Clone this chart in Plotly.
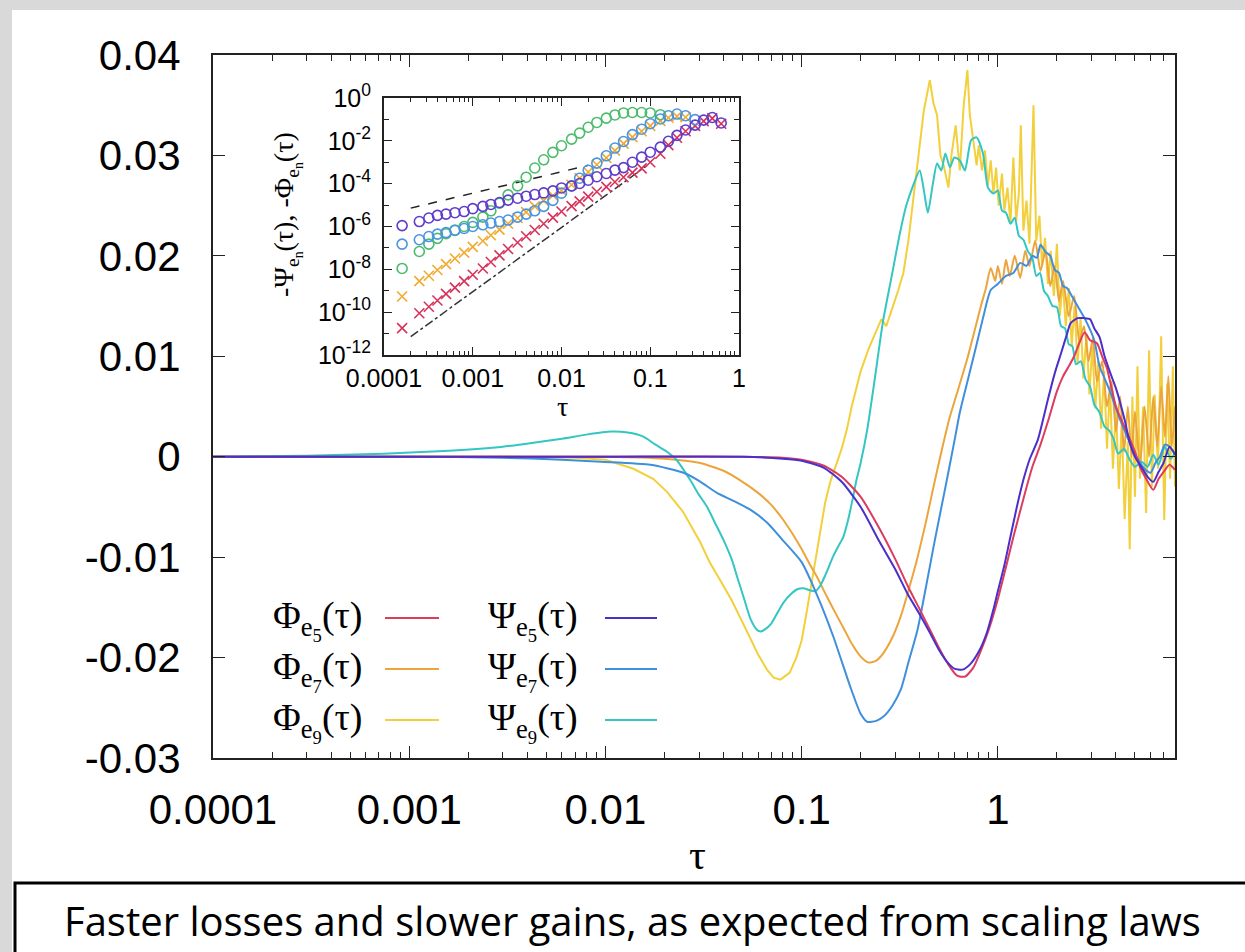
import plotly.graph_objects as go

# ---------------------------------------------------------------------------
# Main panel data: tau and response values for each descriptor
# ---------------------------------------------------------------------------
phi5_tau = [1e-4, 0.01, 0.05, 0.08, 0.1, 0.13, 0.16, 0.2, 0.25, 0.3,
            0.35, 0.4, 0.45, 0.5, 0.56, 0.62, 0.68, 0.75, 0.82, 0.9,
            1.0, 1.1, 1.2, 1.35, 1.5, 1.65, 1.8, 2.0, 2.15, 2.3,
            2.45, 2.6, 2.77, 2.95, 3.2, 3.4, 3.6, 3.8, 4.0, 4.3,
            4.6, 5.0, 5.3, 5.7, 6.2, 6.6, 7.0, 7.5, 8.0]
phi5_val = [0, 0, 0, -0.0001, -0.0003, -0.0009, -0.0020, -0.0040, -0.0072, -0.0102,
            -0.0130, -0.0152, -0.0172, -0.0190, -0.0207, -0.0218, -0.0219, -0.0210, -0.0193, -0.0172,
            -0.0142, -0.0110, -0.0080, -0.0042, -0.0010, 0.0012, 0.0035, 0.0065, 0.0080, 0.0090,
            0.0100, 0.0113, 0.0124, 0.0116, 0.0113, 0.0100, 0.0088, 0.0068, 0.0050, 0.0035,
            0.0022, 0.0005, -0.0010, -0.0022, -0.0033, -0.0022, -0.0015, -0.0008, -0.0013]

psi5_tau = [1e-4, 0.01, 0.05, 0.08, 0.1, 0.13, 0.16, 0.2, 0.25, 0.3,
            0.35, 0.4, 0.45, 0.5, 0.55, 0.6, 0.66, 0.72, 0.8, 0.88,
            0.95, 1.0, 1.08, 1.15, 1.25, 1.35, 1.45, 1.6, 1.8, 1.95,
            2.1, 2.25, 2.35, 2.55, 2.75, 2.95, 3.1, 3.3, 3.5, 3.75,
            4.0, 4.2, 4.45, 4.7, 5.0, 5.5, 5.8, 6.2, 6.6, 7.0,
            7.5, 8.0]
psi5_val = [0, 0, 0, -0.0002, -0.0004, -0.0011, -0.0025, -0.0050, -0.0085, -0.0112,
            -0.0138, -0.0157, -0.0175, -0.0192, -0.0204, -0.0211, -0.0212, -0.0207, -0.0194, -0.0175,
            -0.0152, -0.0134, -0.0108, -0.0083, -0.0050, -0.0023, -0.0003, 0.0017, 0.0057, 0.0083,
            0.0103, 0.0122, 0.0133, 0.0138, 0.0138, 0.0137, 0.0128, 0.0119, 0.0100, 0.0083,
            0.0068, 0.0054, 0.0035, 0.0014, 0.0000, -0.0013, -0.0020, -0.0025, -0.0015, -0.0006,
            0.0010, 0.0002]

phi7_tau = [1e-4, 0.01, 0.02, 0.03, 0.04, 0.05, 0.06, 0.07, 0.08, 0.09,
            0.1, 0.11, 0.12, 0.135, 0.15, 0.165, 0.18, 0.2, 0.22, 0.24,
            0.26, 0.29, 0.32, 0.36, 0.39, 0.43, 0.47, 0.52, 0.57, 0.63,
            0.7, 0.76, 0.82, 0.87, 0.92, 0.97, 1.0, 1.05, 1.1, 1.15,
            1.22, 1.3, 1.38, 1.45, 1.55, 1.65, 1.75, 1.85, 1.95, 2.05,
            2.15, 2.3, 2.45, 2.6, 2.75, 2.9, 3.05, 3.2, 3.4, 3.6,
            3.8, 4.0, 4.2, 4.4, 4.6, 4.8, 5.0, 5.3, 5.6, 5.9,
            6.2, 6.5, 6.8, 7.1, 7.4, 7.7, 8.0]
phi7_val = [0, 0, -0.0002, -0.0006, -0.0014, -0.0025, -0.0036, -0.0048, -0.0062, -0.0077,
            -0.0092, -0.0107, -0.0120, -0.0140, -0.0157, -0.0172, -0.0186, -0.0199, -0.0205, -0.0203,
            -0.0196, -0.0180, -0.0159, -0.0125, -0.0100, -0.0065, -0.0030, 0.0008, 0.0040, 0.0068,
            0.0098, 0.0125, 0.0150, 0.0168, 0.0188, 0.0175, 0.0190, 0.0172, 0.0196, 0.0180,
            0.0200, 0.0178, 0.0205, 0.0190, 0.0215, 0.0185, 0.0205, 0.0170, 0.0190, 0.0155,
            0.0175, 0.0140, 0.0160, 0.0115, 0.0130, 0.0095, 0.0118, 0.0075, 0.0095, 0.0050,
            0.0075, 0.0025, 0.0060, 0.0005, 0.0050, 0.0000, 0.0045, -0.0010, 0.0050, 0.0000,
            0.0060, 0.0010, 0.0070, 0.0020, 0.0080, 0.0010, 0.0050]

psi7_tau = [1e-4, 0.001, 0.003, 0.006, 0.0095, 0.017, 0.025, 0.03, 0.037, 0.045,
            0.055, 0.067, 0.08, 0.1, 0.12, 0.145, 0.177, 0.2, 0.216, 0.24,
            0.264, 0.29, 0.32, 0.35, 0.39, 0.43, 0.47, 0.51, 0.55, 0.6,
            0.64, 0.7, 0.76, 0.84, 0.92, 1.0, 1.1, 1.2, 1.3, 1.4,
            1.5, 1.58, 1.65, 1.75, 1.85, 1.95, 2.05, 2.15, 2.25, 2.4,
            2.6, 2.8, 3.1, 3.3, 3.5, 3.75, 4.0, 4.2, 4.45, 4.7,
            5.0, 5.2, 5.6, 6.0, 6.4, 6.7, 7.1, 7.5, 8.0]
psi7_val = [0, 0, -0.0001, -0.0003, -0.0005, -0.0008, -0.0016, -0.0024, -0.0036, -0.0044,
            -0.0053, -0.0066, -0.0083, -0.0105, -0.0138, -0.0179, -0.0229, -0.0256, -0.0264, -0.0263,
            -0.0258, -0.0248, -0.0232, -0.0205, -0.0172, -0.0130, -0.0090, -0.0055, -0.0023, 0.0015,
            0.0044, 0.0075, 0.0103, 0.0138, 0.0166, 0.0172, 0.0180, 0.0183, 0.0193, 0.0190,
            0.0200, 0.0198, 0.0211, 0.0204, 0.0200, 0.0186, 0.0183, 0.0170, 0.0168, 0.0159,
            0.0147, 0.0136, 0.0116, 0.0090, 0.0078, 0.0064, 0.0048, 0.0037, 0.0025, 0.0014,
            0.0003, -0.0003, -0.0012, -0.0016, -0.0005, 0.0000, 0.0012, 0.0010, 0.0003]

phi9_tau = [1e-4, 0.003, 0.007, 0.01, 0.0139, 0.0175, 0.0206, 0.0249, 0.0304, 0.034,
            0.039, 0.044, 0.05, 0.055, 0.06, 0.0666, 0.072, 0.078, 0.087, 0.094,
            0.1, 0.105, 0.111, 0.117, 0.124, 0.132, 0.14, 0.15, 0.16, 0.17,
            0.18, 0.2, 0.22, 0.24, 0.255, 0.27, 0.29, 0.31, 0.33, 0.35,
            0.37, 0.4, 0.42, 0.45, 0.47, 0.49, 0.51, 0.53, 0.56, 0.58,
            0.61, 0.64, 0.67, 0.7, 0.72, 0.75, 0.78, 0.8, 0.83, 0.86,
            0.89, 0.92, 0.95, 0.98, 1.01, 1.05, 1.08, 1.12, 1.16, 1.2,
            1.24, 1.28, 1.31, 1.35, 1.4, 1.45, 1.52, 1.57, 1.63, 1.68,
            1.74, 1.8, 1.86, 1.93, 2.0, 2.07, 2.14, 2.22, 2.3, 2.38,
            2.46, 2.55, 2.64, 2.73, 2.83, 2.93, 3.03, 3.14, 3.25, 3.36,
            3.48, 3.6, 3.73, 3.86, 4.0, 4.14, 4.28, 4.43, 4.6, 4.7,
            4.85, 5.0, 5.15, 5.3, 5.5, 5.7, 5.9, 6.1, 6.3, 6.55,
            6.8, 7.05, 7.3, 7.55, 7.8, 8.0]
phi9_val = [0, 0, -0.0001, -0.0003, -0.0012, -0.0022, -0.0035, -0.0055, -0.0085, -0.0105,
            -0.0125, -0.0143, -0.0165, -0.0182, -0.0197, -0.0212, -0.0220, -0.0222, -0.0215, -0.0200,
            -0.0183, -0.0160, -0.0132, -0.0103, -0.0073, -0.0045, -0.0025, -0.0008, 0.0008, 0.0027,
            0.0050, 0.0085, 0.0108, 0.0125, 0.0137, 0.0130, 0.0148, 0.0165, 0.0183, 0.0215,
            0.0255, 0.0308, 0.0345, 0.0375, 0.0352, 0.0340, 0.0300, 0.0290, 0.0268, 0.0300,
            0.0330, 0.0285, 0.0350, 0.0385, 0.0340, 0.0315, 0.0290, 0.0310, 0.0285, 0.0305,
            0.0270, 0.0295, 0.0262, 0.0288, 0.0250, 0.0282, 0.0245, 0.0268, 0.0232, 0.0298,
            0.0235, 0.0262, 0.0330, 0.0225, 0.0255, 0.0212, 0.0350, 0.0215, 0.0240, 0.0190,
            0.0218, 0.0172, 0.0205, 0.0160, 0.0212, 0.0140, 0.0175, 0.0130, 0.0168, 0.0110,
            0.0150, 0.0092, 0.0138, 0.0078, 0.0122, 0.0062, 0.0110, 0.0048, 0.0095, 0.0028,
            0.0085, 0.0008, 0.0070, -0.0012, 0.0050, -0.0032, 0.0035, -0.0062, 0.0015, -0.0092,
            0.0060, -0.0040, 0.0090, -0.0022, 0.0050, -0.0056, 0.0106, -0.0030, 0.0062, -0.0012,
            0.0120, -0.0063, 0.0073, -0.0022, 0.0090, -0.0030]

psi9_tau = [1e-4, 3e-4, 7.4e-4, 1.6e-3, 3e-3, 4.3e-3, 6e-3, 8e-3, 0.0107, 0.013,
            0.0156, 0.018, 0.0206, 0.023, 0.027, 0.03, 0.033, 0.036, 0.04, 0.044,
            0.047, 0.051, 0.055, 0.059, 0.0617, 0.065, 0.0695, 0.075, 0.081, 0.088,
            0.095, 0.102, 0.11, 0.117, 0.124, 0.132, 0.145, 0.155, 0.163, 0.173,
            0.183, 0.19, 0.2, 0.216, 0.235, 0.26, 0.29, 0.315, 0.34, 0.37,
            0.4, 0.42, 0.44, 0.465, 0.49, 0.515, 0.54, 0.57, 0.6, 0.64,
            0.68, 0.73, 0.78, 0.84, 0.89, 0.95, 1.0, 1.05, 1.1, 1.16,
            1.22, 1.28, 1.35, 1.42, 1.5, 1.57, 1.64, 1.72, 1.8, 1.9,
            2.0, 2.1, 2.2, 2.3, 2.4, 2.5, 2.65, 2.8, 2.95, 3.1,
            3.3, 3.5, 3.7, 3.9, 4.1, 4.4, 4.7, 5.0, 5.4, 5.8,
            6.2, 6.6, 7.1, 7.6, 8.0]
psi9_val = [0, 0.0001, 0.0003, 0.0006, 0.0010, 0.0014, 0.0018, 0.0022, 0.0025, 0.0024,
            0.0020, 0.0012, 0.0005, -0.0003, -0.0023, -0.0038, -0.0050, -0.0065, -0.0083, -0.0102,
            -0.0120, -0.0142, -0.0162, -0.0172, -0.0174, -0.0172, -0.0167, -0.0156, -0.0145, -0.0137,
            -0.0132, -0.0131, -0.0133, -0.0134, -0.0129, -0.0118, -0.0099, -0.0088, -0.0080, -0.0062,
            -0.0040, -0.0024, -0.0006, 0.0027, 0.0075, 0.0135, 0.0183, 0.0220, 0.0249, 0.0270,
            0.0285, 0.0265, 0.0243, 0.0270, 0.0292, 0.0285, 0.0302, 0.0288, 0.0298, 0.0295,
            0.0285, 0.0315, 0.0318, 0.0302, 0.0268, 0.0262, 0.0265, 0.0245, 0.0243, 0.0232,
            0.0238, 0.0220, 0.0216, 0.0205, 0.0198, 0.0180, 0.0183, 0.0165, 0.0160, 0.0150,
            0.0149, 0.0130, 0.0128, 0.0112, 0.0110, 0.0092, 0.0095, 0.0077, 0.0070, 0.0052,
            0.0044, 0.0030, 0.0026, 0.0017, 0.0003, 0.0008, -0.0003, -0.0010, -0.0005, -0.0010,
            0.0002, -0.0008, 0.0010, -0.0002, 0.0004]

# ---------------------------------------------------------------------------
# Inset data (log-log): sampling times and magnitudes
# ---------------------------------------------------------------------------
inset_tau = [1.6e-4, 2.5e-4, 3.2e-4, 4.0e-4, 5.0e-4, 6.3e-4, 8.0e-4, 1.0e-3, 1.3e-3, 1.6e-3,
             2.0e-3, 2.5e-3, 3.2e-3, 4.0e-3, 5.0e-3, 6.3e-3, 8.0e-3, 0.010, 0.013, 0.016,
             0.020, 0.025, 0.032, 0.040, 0.050, 0.063, 0.080, 0.10, 0.13, 0.16,
             0.20, 0.25, 0.32, 0.40, 0.50, 0.63]
inset_psi5 = [1.1e-6, 1.7e-6, 2.5e-6, 3.3e-6, 3.8e-6, 4.4e-6, 5.0e-6, 6.8e-6, 8.7e-6, 1.07e-5,
              1.32e-5, 1.7e-5, 2.1e-5, 2.6e-5, 3.1e-5, 3.7e-5, 4.6e-5, 6.3e-5, 7.8e-5, 1.02e-4,
              1.45e-4, 2.1e-4, 3.0e-4, 4.3e-4, 5.6e-4, 1.0e-3, 1.74e-3, 2.95e-3, 5.1e-3, 9.5e-3,
              0.018, 0.032, 0.054, 0.093, 0.123, 0.068]
inset_psi7 = [1.5e-7, 2.4e-7, 3.4e-7, 4.4e-7, 5.2e-7, 6.5e-7, 8.1e-7, 1.0e-6, 1.2e-6, 1.45e-6,
              1.7e-6, 2.0e-6, 2.75e-6, 3.8e-6, 5.4e-6, 8.7e-6, 1.66e-5, 3.6e-5, 7.9e-5, 1.8e-4,
              4.2e-4, 9.1e-4, 2.0e-3, 4.6e-3, 9.3e-3, 0.0195, 0.035, 0.063, 0.105, 0.148,
              0.178, 0.148, 0.098]
inset_psi9 = [1.1e-8, 6.8e-8, 1.5e-7, 2.8e-7, 4.6e-7, 6.9e-7, 1.0e-6, 1.55e-6, 2.75e-6, 5.4e-6,
              1.23e-5, 3.0e-5, 7.9e-5, 2.0e-4, 5.4e-4, 1.3e-3, 2.9e-3, 5.9e-3, 0.012, 0.023,
              0.043, 0.072, 0.115, 0.162, 0.20, 0.21, 0.21, 0.20, 0.166]
inset_phi7 = [5.4e-10, 2.8e-9, 5.0e-9, 9.3e-9, 1.74e-8, 3.2e-8, 6.0e-8, 1.12e-7, 2.1e-7, 3.9e-7,
              7.2e-7, 1.35e-6, 2.5e-6, 4.7e-6, 8.7e-6, 1.6e-5, 2.8e-5, 4.8e-5, 8.9e-5, 1.8e-4,
              3.5e-4, 7.6e-4, 1.6e-3, 3.5e-3, 7.4e-3, 0.015, 0.028, 0.050, 0.085, 0.12,
              0.14, 0.126]
inset_phi5 = [1.8e-11, 8.9e-11, 1.8e-10, 3.5e-10, 7.1e-10, 1.4e-9, 2.8e-9, 5.6e-9, 1.1e-8, 2.2e-8,
              4.5e-8, 8.9e-8, 1.8e-7, 3.5e-7, 6.9e-7, 1.35e-6, 2.6e-6, 5.0e-6, 8.9e-6, 1.5e-5,
              2.5e-5, 4.2e-5, 7.1e-5, 1.2e-4, 2.0e-4, 3.3e-4, 5.2e-4, 1.0e-3, 2.5e-3, 6.3e-3,
              0.014, 0.028, 0.050, 0.083, 0.112, 0.063]

# power-law guide lines (slope 1 dashed, slope 3 dash-dot)
guide_lin_tau = [2e-4, 2e-2]
guide_lin_val = [7.2e-6, 7.2e-4]
guide_cub_tau = [2e-4, 0.09]
guide_cub_val = [7.2e-12, 6.6e-4]

# Axis ticks
x_tick_vals = [1e-4, 1e-3, 1e-2, 1e-1, 1]
x_tick_text = ["0.0001", "0.001", "0.01", "0.1", "1"]
y_tick_vals = [-0.03, -0.02, -0.01, 0, 0.01, 0.02, 0.03, 0.04]
y_tick_text = ["-0.03", "-0.02", "-0.01", "0", "0.01", "0.02", "0.03", "0.04"]
inset_y_tick_vals = [1e-12, 1e-10, 1e-8, 1e-6, 1e-4, 1e-2, 1]
inset_y_tick_text = ["10<sup>-12</sup>", "10<sup>-10</sup>", "10<sup>-8</sup>", "10<sup>-6</sup>",
                     "10<sup>-4</sup>", "10<sup>-2</sup>", "10<sup>0</sup>"]

# ---------------------------------------------------------------------------
# Styling
# ---------------------------------------------------------------------------
C_PHI5 = "#dc3c5e"
C_PSI5 = "#4a30c8"
C_PHI7 = "#eba53c"
C_PSI7 = "#3f8fdc"
C_PHI9 = "#f2d03c"
C_PSI9 = "#33c6c2"
C_IN_PSI5 = "#5e3ccc"
C_IN_PSI7 = "#4a95e2"
C_IN_PSI9 = "#4cbc6c"
C_IN_PHI7 = "#f0aa30"
C_IN_PHI5 = "#d8325a"

SANS = "Liberation Sans, Arial, sans-serif"
SERIF = "Liberation Serif, Times New Roman, serif"

W, H = 1245, 952
FL, FR, FT, FB = 213, 1175, 55, 758   # plot frame in pixels


def fx(p):
    return (p - FL) / (FR - FL)


def fy(p):
    return (FB - p) / (FB - FT)


fig = go.Figure()

main_series = [
    (phi9_tau, phi9_val, C_PHI9, "linear"),
    (phi7_tau, phi7_val, C_PHI7, "spline"),
    (psi9_tau, psi9_val, C_PSI9, "spline"),
    (psi7_tau, psi7_val, C_PSI7, "spline"),
    (phi5_tau, phi5_val, C_PHI5, "spline"),
    (psi5_tau, psi5_val, C_PSI5, "spline"),
]
for t, v, c, shape in main_series:
    fig.add_trace(go.Scatter(x=t, y=v, mode="lines", showlegend=False,
                             line=dict(color=c, width=2, shape=shape, smoothing=0.6),
                             xaxis="x", yaxis="y"))

# inset guides
fig.add_trace(go.Scatter(x=guide_lin_tau, y=guide_lin_val, mode="lines", showlegend=False,
                         line=dict(color="#222", width=1.5, dash="dash"), xaxis="x2", yaxis="y2"))
fig.add_trace(go.Scatter(x=guide_cub_tau, y=guide_cub_val, mode="lines", showlegend=False,
                         line=dict(color="#333", width=1.5, dash="dashdot"), xaxis="x2", yaxis="y2"))

inset_series = [
    (inset_phi5, C_IN_PHI5, "x-thin-open"),
    (inset_phi7, C_IN_PHI7, "x-thin-open"),
    (inset_psi9, C_IN_PSI9, "circle-open"),
    (inset_psi7, C_IN_PSI7, "circle-open"),
    (inset_psi5, C_IN_PSI5, "circle-open"),
]
for vals, c, sym in inset_series:
    fig.add_trace(go.Scatter(x=inset_tau[:len(vals)], y=vals, mode="markers", showlegend=False,
                             marker=dict(symbol=sym, size=10, color=c, line=dict(color=c, width=1.6)),
                             xaxis="x2", yaxis="y2"))

# minor tick positions
main_minor = [m * 10 ** e for e in range(-4, 1) for m in range(2, 10) if m * 10 ** e <= 8]
inset_minor_x = [m * 10 ** e for e in range(-4, 0) for m in range(2, 10)]
inset_minor_y = [10.0 ** e for e in range(-11, 0, 2)]

axis_common = dict(showline=True, mirror="ticks", linecolor="#222", showgrid=False,
                   zeroline=False, ticks="inside", tickcolor="#222")

fig.update_layout(
    width=W, height=H, autosize=False,
    margin=dict(l=FL, r=W - FR, t=FT, b=H - FB, pad=0),
    paper_bgcolor="#d9d9d9", plot_bgcolor="white",
    xaxis=dict(type="log", range=[-4, 0.903], tickvals=x_tick_vals, ticktext=x_tick_text,
               tickfont=dict(family=SANS, size=42, color="black"), ticklen=12, tickwidth=1.2,
               linewidth=2, ticklabelstandoff=14,
               minor=dict(tickvals=main_minor, ticks="inside", ticklen=6, tickcolor="#222"),
               **axis_common),
    yaxis=dict(range=[-0.03, 0.04], tickvals=y_tick_vals, ticktext=y_tick_text,
               tickfont=dict(family=SANS, size=42, color="black"), ticklen=12, tickwidth=1.2,
               linewidth=2, ticklabelstandoff=22, **axis_common),
    xaxis2=dict(type="log", range=[-4, 0], domain=[fx(384), fx(739)], anchor="y2",
                tickvals=x_tick_vals, ticktext=x_tick_text,
                tickfont=dict(family=SANS, size=25, color="black"), ticklen=8, linewidth=2,
                ticklabelstandoff=0,
                minor=dict(tickvals=inset_minor_x, ticks="inside", ticklen=4, tickcolor="#222"),
                **axis_common),
    yaxis2=dict(type="log", range=[-12, 0], domain=[fy(355), fy(98)], anchor="x2",
                tickvals=inset_y_tick_vals, ticktext=inset_y_tick_text,
                tickfont=dict(family=SANS, size=25, color="black"), ticklen=8, linewidth=2,
                ticklabelstandoff=6,
                minor=dict(tickvals=inset_minor_y, ticks="inside", ticklen=5, tickcolor="#222"),
                **axis_common),
)

shapes = []
annotations = []

# white slide panel and caption box
shapes.append(dict(type="rect", xref="paper", yref="paper", x0=fx(12), x1=fx(1260),
                   y0=fy(970), y1=fy(10), fillcolor="white", line=dict(width=0), layer="below"))
shapes.append(dict(type="rect", xref="paper", yref="paper", x0=fx(15), x1=fx(1260),
                   y0=fy(975), y1=fy(883), fillcolor="white", line=dict(color="black", width=3)))
annotations.append(dict(xref="paper", yref="paper", x=fx(632), y=fy(920), showarrow=False,
                        text="Faster losses and slower gains, as expected from scaling laws",
                        font=dict(family="Open Sans, Noto Sans, sans-serif", size=40, color="black"),
                        xanchor="center", yanchor="middle"))

# axis titles
annotations.append(dict(xref="paper", yref="paper", x=fx(697), y=fy(855), showarrow=False,
                        text="τ", font=dict(family=SERIF, size=42, color="black"),
                        xanchor="center", yanchor="middle"))
annotations.append(dict(xref="paper", yref="paper", x=fx(562), y=fy(406), showarrow=False,
                        text="τ", font=dict(family=SERIF, size=28, color="black"),
                        xanchor="center", yanchor="middle"))
annotations.append(dict(xref="paper", yref="paper", x=fx(287), y=fy(215), showarrow=False,
                        text="-Ψ<sub>e<sub>n</sub></sub>(τ), -Φ<sub>e<sub>n</sub></sub>(τ)",
                        textangle=-90, font=dict(family=SERIF, size=28, color="black"),
                        xanchor="center", yanchor="middle"))

# key: text on the left, sample line on the right
key_rows = [620, 671, 722]
key_cols = [(365, 385, 439), (580, 605, 657)]
key_labels = [
    ["Φ<sub>e<sub>5</sub></sub>(τ)", "Φ<sub>e<sub>7</sub></sub>(τ)", "Φ<sub>e<sub>9</sub></sub>(τ)"],
    ["Ψ<sub>e<sub>5</sub></sub>(τ)", "Ψ<sub>e<sub>7</sub></sub>(τ)", "Ψ<sub>e<sub>9</sub></sub>(τ)"],
]
key_colors = [[C_PHI5, C_PHI7, C_PHI9], [C_PSI5, C_PSI7, C_PSI9]]
for ci, (tx, lx0, lx1) in enumerate(key_cols):
    for ri, ry in enumerate(key_rows):
        annotations.append(dict(xref="paper", yref="paper", x=fx(tx), y=fy(ry), showarrow=False,
                                text=key_labels[ci][ri], xanchor="right", yanchor="middle",
                                font=dict(family=SERIF, size=38, color="black")))
        shapes.append(dict(type="line", xref="paper", yref="paper", x0=fx(lx0), x1=fx(lx1),
                           y0=fy(ry - 2), y1=fy(ry - 2),
                           line=dict(color=key_colors[ci][ri], width=2)))

fig.update_layout(shapes=shapes, annotations=annotations)

fig.write_html("out.html")
